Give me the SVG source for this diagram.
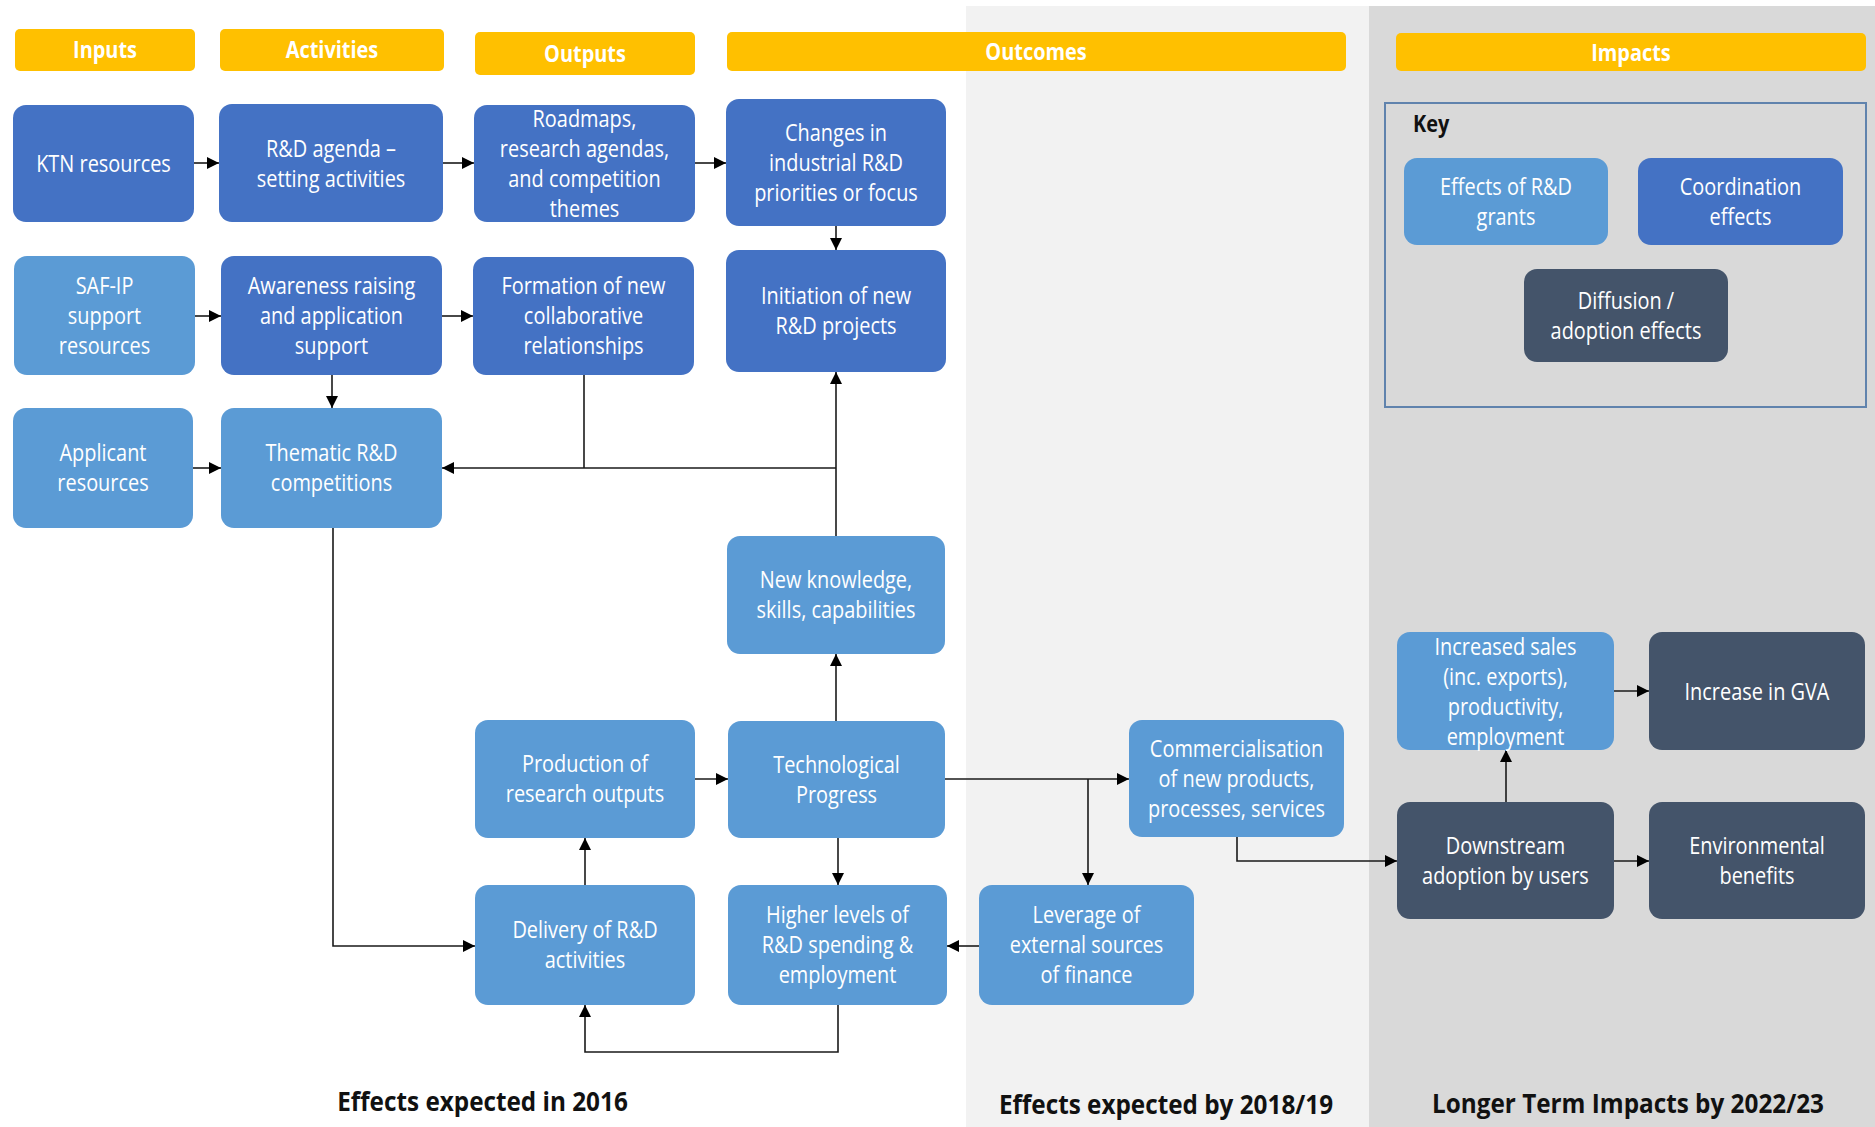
<svg xmlns="http://www.w3.org/2000/svg" width="1875" height="1127" viewBox="0 0 1875 1127">
  <style>
    .hdr { fill: #ffc000; }
    .c1 { fill: #4472c4; }
    .c2 { fill: #5b9bd5; }
    .c3 { fill: #44546a; }
    .t { font-family: "Open Sans", "Liberation Sans", sans-serif; font-size: 24px; fill: #ffffff; text-anchor: middle; }
    .h { font-family: "Open Sans", "Liberation Sans", sans-serif; font-size: 24px; font-weight: bold; fill: #ffffff; text-anchor: middle; }
    .lbl { font-family: "Open Sans", "Liberation Sans", sans-serif; font-size: 27px; font-weight: bold; fill: #111111; text-anchor: middle; }
    .key { font-family: "Open Sans", "Liberation Sans", sans-serif; font-size: 24px; font-weight: bold; fill: #111111; }
    .ln { fill: none; stroke: #1a1a1a; stroke-width: 1.6; }
  </style>
  <defs>
    <marker id="arr" markerUnits="userSpaceOnUse" markerWidth="12" markerHeight="12" refX="12" refY="6" orient="auto">
      <path d="M0,0 L12,6 L0,12 z" fill="#000000"/>
    </marker>
  </defs>

  <!-- background bands -->
  <rect x="0" y="0" width="1875" height="1127" fill="#ffffff"/>
  <rect x="966" y="6" width="404" height="1121" fill="#f2f2f2"/>
  <rect x="1369" y="6" width="506" height="1121" fill="#d9d9d9"/>

  <!-- column headers -->
  <g id="hdr-inputs">
    <rect class="hdr" x="15" y="29" width="180" height="42" rx="5"/>
    <text class="h" transform="translate(105,0) scale(.83,1)"><tspan x="0" y="58">Inputs</tspan></text>
  </g>
  <g id="hdr-activities">
    <rect class="hdr" x="220" y="29" width="224" height="42" rx="5"/>
    <text class="h" transform="translate(332,0) scale(.83,1)"><tspan x="0" y="58">Activities</tspan></text>
  </g>
  <g id="hdr-outputs">
    <rect class="hdr" x="475" y="32" width="220" height="43" rx="5"/>
    <text class="h" transform="translate(585,0) scale(.83,1)"><tspan x="0" y="62">Outputs</tspan></text>
  </g>
  <g id="hdr-outcomes">
    <rect class="hdr" x="727" y="32" width="619" height="39" rx="5"/>
    <text class="h" transform="translate(1036,0) scale(.83,1)"><tspan x="0" y="60">Outcomes</tspan></text>
  </g>
  <g id="hdr-impacts">
    <rect class="hdr" x="1396" y="33" width="470" height="38" rx="5"/>
    <text class="h" transform="translate(1631,0) scale(.83,1)"><tspan x="0" y="61">Impacts</tspan></text>
  </g>

  <!-- key -->
  <g id="key">
    <rect x="1385" y="103" width="481" height="304" fill="none" stroke="#6083ad" stroke-width="2"/>
    <text class="key" transform="translate(1413,0) scale(.83,1)"><tspan x="0" y="132">Key</tspan></text>
    <g id="key-grants">
      <rect class="c2" x="1404" y="158" width="204" height="87" rx="13"/>
      <text class="t" transform="translate(1506,0) scale(.83,1)"><tspan x="0" y="195">Effects of R&amp;D</tspan><tspan x="0" y="225">grants</tspan></text>
    </g>
    <g id="key-coordination">
      <rect class="c1" x="1638" y="158" width="205" height="87" rx="13"/>
      <text class="t" transform="translate(1740.5,0) scale(.83,1)"><tspan x="0" y="195">Coordination</tspan><tspan x="0" y="225">effects</tspan></text>
    </g>
    <g id="key-diffusion">
      <rect class="c3" x="1524" y="269" width="204" height="93" rx="13"/>
      <text class="t" transform="translate(1626,0) scale(.83,1)"><tspan x="0" y="309">Diffusion /</tspan><tspan x="0" y="339">adoption effects</tspan></text>
    </g>
  </g>

  <!-- connectors -->
  <g id="connectors">
    <path class="ln" d="M194,163 H219" marker-end="url(#arr)"/>
    <path class="ln" d="M443,163 H474" marker-end="url(#arr)"/>
    <path class="ln" d="M695,163 H726" marker-end="url(#arr)"/>
    <path class="ln" d="M836,226 V250" marker-end="url(#arr)"/>
    <path class="ln" d="M195,316 H221" marker-end="url(#arr)"/>
    <path class="ln" d="M442,316 H473" marker-end="url(#arr)"/>
    <path class="ln" d="M332,375 V408" marker-end="url(#arr)"/>
    <path class="ln" d="M193,468 H221" marker-end="url(#arr)"/>
    <path class="ln" d="M584,375 V468"/>
    <path class="ln" d="M836,536 V372" marker-end="url(#arr)"/>
    <path class="ln" d="M836,468 H442" marker-end="url(#arr)"/>
    <path class="ln" d="M333,528 V946 H475" marker-end="url(#arr)"/>
    <path class="ln" d="M585,885 V838" marker-end="url(#arr)"/>
    <path class="ln" d="M695,779 H728" marker-end="url(#arr)"/>
    <path class="ln" d="M836,721 V654" marker-end="url(#arr)"/>
    <path class="ln" d="M838,838 V885" marker-end="url(#arr)"/>
    <path class="ln" d="M945,779 H1129" marker-end="url(#arr)"/>
    <path class="ln" d="M1088,779 V885" marker-end="url(#arr)"/>
    <path class="ln" d="M979,946 H947" marker-end="url(#arr)"/>
    <path class="ln" d="M838,1005 V1052 H585 V1005" marker-end="url(#arr)"/>
    <path class="ln" d="M1237,837 V861 H1397" marker-end="url(#arr)"/>
    <path class="ln" d="M1506,802 V750" marker-end="url(#arr)"/>
    <path class="ln" d="M1614,691 H1649" marker-end="url(#arr)"/>
    <path class="ln" d="M1614,861 H1649" marker-end="url(#arr)"/>
  </g>

  <!-- nodes -->
  <g id="ktn-resources">
    <rect class="c1" x="13" y="105" width="181" height="117" rx="13"/>
    <text class="t" transform="translate(103.5,0) scale(.83,1)"><tspan x="0" y="172">KTN resources</tspan></text>
  </g>
  <g id="rd-agenda">
    <rect class="c1" x="219" y="104" width="224" height="118" rx="13"/>
    <text class="t" transform="translate(331,0) scale(.83,1)"><tspan x="0" y="157">R&amp;D agenda –</tspan><tspan x="0" y="187">setting activities</tspan></text>
  </g>
  <g id="roadmaps">
    <rect class="c1" x="474" y="105" width="221" height="117" rx="13"/>
    <text class="t" transform="translate(584.5,0) scale(.83,1)"><tspan x="0" y="127">Roadmaps,</tspan><tspan x="0" y="157">research agendas,</tspan><tspan x="0" y="187">and competition</tspan><tspan x="0" y="217">themes</tspan></text>
  </g>
  <g id="changes-priorities">
    <rect class="c1" x="726" y="99" width="220" height="127" rx="13"/>
    <text class="t" transform="translate(836,0) scale(.83,1)"><tspan x="0" y="141">Changes in</tspan><tspan x="0" y="171">industrial R&amp;D</tspan><tspan x="0" y="201">priorities or focus</tspan></text>
  </g>
  <g id="saf-ip">
    <rect class="c2" x="14" y="256" width="181" height="119" rx="13"/>
    <text class="t" transform="translate(104.5,0) scale(.83,1)"><tspan x="0" y="294">SAF-IP</tspan><tspan x="0" y="324">support</tspan><tspan x="0" y="354">resources</tspan></text>
  </g>
  <g id="awareness">
    <rect class="c1" x="221" y="256" width="221" height="119" rx="13"/>
    <text class="t" transform="translate(331.5,0) scale(.83,1)"><tspan x="0" y="294">Awareness raising</tspan><tspan x="0" y="324">and application</tspan><tspan x="0" y="354">support</tspan></text>
  </g>
  <g id="formation">
    <rect class="c1" x="473" y="257" width="221" height="118" rx="13"/>
    <text class="t" transform="translate(583.5,0) scale(.83,1)"><tspan x="0" y="294">Formation of new</tspan><tspan x="0" y="324">collaborative</tspan><tspan x="0" y="354">relationships</tspan></text>
  </g>
  <g id="initiation">
    <rect class="c1" x="726" y="250" width="220" height="122" rx="13"/>
    <text class="t" transform="translate(836,0) scale(.83,1)"><tspan x="0" y="304">Initiation of new</tspan><tspan x="0" y="334">R&amp;D projects</tspan></text>
  </g>
  <g id="applicant">
    <rect class="c2" x="13" y="408" width="180" height="120" rx="13"/>
    <text class="t" transform="translate(103,0) scale(.83,1)"><tspan x="0" y="461">Applicant</tspan><tspan x="0" y="491">resources</tspan></text>
  </g>
  <g id="thematic">
    <rect class="c2" x="221" y="408" width="221" height="120" rx="13"/>
    <text class="t" transform="translate(331.5,0) scale(.83,1)"><tspan x="0" y="461">Thematic R&amp;D</tspan><tspan x="0" y="491">competitions</tspan></text>
  </g>
  <g id="new-knowledge">
    <rect class="c2" x="727" y="536" width="218" height="118" rx="13"/>
    <text class="t" transform="translate(836,0) scale(.83,1)"><tspan x="0" y="588">New knowledge,</tspan><tspan x="0" y="618">skills, capabilities</tspan></text>
  </g>
  <g id="production">
    <rect class="c2" x="475" y="720" width="220" height="118" rx="13"/>
    <text class="t" transform="translate(585,0) scale(.83,1)"><tspan x="0" y="772">Production of</tspan><tspan x="0" y="802">research outputs</tspan></text>
  </g>
  <g id="technological">
    <rect class="c2" x="728" y="721" width="217" height="117" rx="13"/>
    <text class="t" transform="translate(836.5,0) scale(.83,1)"><tspan x="0" y="773">Technological</tspan><tspan x="0" y="803">Progress</tspan></text>
  </g>
  <g id="commercialisation">
    <rect class="c2" x="1129" y="720" width="215" height="117" rx="13"/>
    <text class="t" transform="translate(1236.5,0) scale(.83,1)"><tspan x="0" y="757">Commercialisation</tspan><tspan x="0" y="787">of new products,</tspan><tspan x="0" y="817">processes, services</tspan></text>
  </g>
  <g id="delivery">
    <rect class="c2" x="475" y="885" width="220" height="120" rx="13"/>
    <text class="t" transform="translate(585,0) scale(.83,1)"><tspan x="0" y="938">Delivery of R&amp;D</tspan><tspan x="0" y="968">activities</tspan></text>
  </g>
  <g id="higher-levels">
    <rect class="c2" x="728" y="885" width="219" height="120" rx="13"/>
    <text class="t" transform="translate(837.5,0) scale(.83,1)"><tspan x="0" y="923">Higher levels of</tspan><tspan x="0" y="953">R&amp;D spending &amp;</tspan><tspan x="0" y="983">employment</tspan></text>
  </g>
  <g id="leverage">
    <rect class="c2" x="979" y="885" width="215" height="120" rx="13"/>
    <text class="t" transform="translate(1086.5,0) scale(.83,1)"><tspan x="0" y="923">Leverage of</tspan><tspan x="0" y="953">external sources</tspan><tspan x="0" y="983">of finance</tspan></text>
  </g>
  <g id="increased-sales">
    <rect class="c2" x="1397" y="632" width="217" height="118" rx="13"/>
    <text class="t" transform="translate(1505.5,0) scale(.83,1)"><tspan x="0" y="655">Increased sales</tspan><tspan x="0" y="685">(inc. exports),</tspan><tspan x="0" y="715">productivity,</tspan><tspan x="0" y="745">employment</tspan></text>
  </g>
  <g id="gva">
    <rect class="c3" x="1649" y="632" width="216" height="118" rx="13"/>
    <text class="t" transform="translate(1757,0) scale(.83,1)"><tspan x="0" y="700">Increase in GVA</tspan></text>
  </g>
  <g id="downstream">
    <rect class="c3" x="1397" y="802" width="217" height="117" rx="13"/>
    <text class="t" transform="translate(1505.5,0) scale(.83,1)"><tspan x="0" y="854">Downstream</tspan><tspan x="0" y="884">adoption by users</tspan></text>
  </g>
  <g id="environmental">
    <rect class="c3" x="1649" y="802" width="216" height="117" rx="13"/>
    <text class="t" transform="translate(1757,0) scale(.83,1)"><tspan x="0" y="854">Environmental</tspan><tspan x="0" y="884">benefits</tspan></text>
  </g>

  <!-- period labels -->
  <g id="period-labels">
    <text class="lbl" transform="translate(482.5,0) scale(.9,1)"><tspan x="0" y="1111">Effects expected in 2016</tspan></text>
    <text class="lbl" transform="translate(1166,0) scale(.9,1)"><tspan x="0" y="1114">Effects expected by 2018/19</tspan></text>
    <text class="lbl" transform="translate(1628,0) scale(.9,1)"><tspan x="0" y="1113">Longer Term Impacts by 2022/23</tspan></text>
  </g>
</svg>
